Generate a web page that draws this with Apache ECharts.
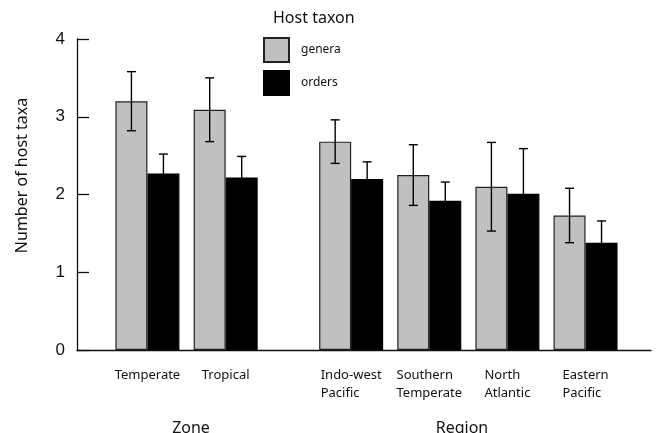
<!DOCTYPE html>
<html lang="en">
<head>
  <meta charset="UTF-8">
  <title>Number of host taxa</title>
  <style>
    html, body { margin: 0; padding: 0; background: #fff; }
    #main { width: 657px; height: 433px; }
  </style>
</head>
<body>
<div id="main"></div>
<script src="https://cdn.jsdelivr.net/npm/echarts@6/dist/echarts.min.js"></script>
<script>
  // categories
  var zoneCats = ['Temperate', 'Tropical'];
  var regionCats = ['Indo-west\nPacific', 'Southern\nTemperate', 'North\nAtlantic', 'Eastern\nPacific'];
  var seriesNames = ['genera', 'orders'];

  // means and error (half-length of bar)
  var zoneGenera = [3.20, 3.09];
  var zoneGeneraErr = [0.38, 0.41];
  var zoneOrders = [2.27, 2.22];
  var zoneOrdersErr = [0.25, 0.27];

  var regionGenera = [2.68, 2.25, 2.10, 1.73];
  var regionGeneraErr = [0.28, 0.39, 0.57, 0.35];
  var regionOrders = [2.20, 1.92, 2.01, 1.38];
  var regionOrdersErr = [0.22, 0.24, 0.58, 0.28];

  var yMin = 0, yMax = 4, yStep = 1;

  var chart = echarts.init(document.getElementById('main'));

  var BAR_W = 32;
  var GRAY = '#c0c0c0';
  var SANS = '"Noto Sans", sans-serif';

  function errData(vals, errs) {
    return vals.map(function (v, i) { return [i, v - errs[i], v + errs[i]]; });
  }

  function errSeries(gridIdx, vals, errs, side) {
    return {
      type: 'custom',
      xAxisIndex: gridIdx,
      yAxisIndex: gridIdx,
      z: 5,
      silent: true,
      encode: { x: 0, y: [1, 2] },
      data: errData(vals, errs),
      renderItem: function (params, api) {
        var lo = api.coord([api.value(0), api.value(1)]);
        var hi = api.coord([api.value(0), api.value(2)]);
        var x = lo[0] + side * BAR_W / 2;
        var cap = 4.5;
        var st = { stroke: '#000', lineWidth: 1.4 };
        return {
          type: 'group',
          children: [
            { type: 'line', shape: { x1: x, y1: lo[1], x2: x, y2: hi[1] }, style: st },
            { type: 'line', shape: { x1: x - cap, y1: hi[1], x2: x + cap, y2: hi[1] }, style: st },
            { type: 'line', shape: { x1: x - cap, y1: lo[1], x2: x + cap, y2: lo[1] }, style: st }
          ]
        };
      }
    };
  }

  function barSeries(gridIdx, name, vals) {
    var gen = name === 'genera';
    return {
      name: name,
      type: 'bar',
      xAxisIndex: gridIdx,
      yAxisIndex: gridIdx,
      barWidth: BAR_W,
      barGap: '0%',
      data: vals,
      itemStyle: {
        color: gen ? GRAY : '#000',
        borderColor: gen ? '#222' : '#000',
        borderWidth: 1.2
      }
    };
  }

  var catLabel = {
    interval: 0,
    margin: 16,
    color: '#111',
    formatter: function (v) {
      return v.split('\n').map(function (s) { return '{a|' + s + '}'; }).join('\n');
    },
    rich: {
      a: { fontFamily: SANS, fontSize: 13, color: '#111', align: 'left', lineHeight: 18 }
    }
  };

  var hiddenY = { type: 'value', min: yMin, max: yMax, interval: yStep, show: false };

  var option = {
    backgroundColor: '#fff',
    animation: false,
    title: [
      { text: 'Host taxon', left: 273, top: 10, padding: 0,
        textStyle: { fontFamily: SANS, fontSize: 16, fontWeight: 'normal', color: '#111' } },
      { text: 'Zone', left: 191, top: 420, padding: 0, textAlign: 'center',
        textStyle: { fontFamily: SANS, fontSize: 16, fontWeight: 'normal', color: '#111' } },
      { text: 'Region', left: 462, top: 420, padding: 0, textAlign: 'center',
        textStyle: { fontFamily: SANS, fontSize: 16, fontWeight: 'normal', color: '#111' } }
    ],
    legend: {
      data: seriesNames,
      orient: 'vertical',
      left: 263,
      top: 37,
      padding: 0,
      itemWidth: 25,
      itemHeight: 24,
      itemGap: 7,
      icon: 'rect',
      selectedMode: false,
      textStyle: { fontFamily: SANS, fontSize: 12, color: '#111', padding: [0, 0, 0, 7] }
    },
    grid: [
      { left: 77, right: 6, top: 39, bottom: 83 },
      { left: 108.3, width: 156.5, top: 39, bottom: 83 },
      { left: 312.1, width: 312.5, top: 39, bottom: 83 }
    ],
    xAxis: [
      { gridIndex: 0, type: 'category', data: [''],
        axisLine: { lineStyle: { color: '#111', width: 1.3 } },
        axisTick: { show: false }, axisLabel: { show: false } },
      { gridIndex: 1, type: 'category', data: zoneCats,
        axisLine: { show: false }, axisTick: { show: false }, axisLabel: catLabel },
      { gridIndex: 2, type: 'category', data: regionCats,
        axisLine: { show: false }, axisTick: { show: false }, axisLabel: catLabel }
    ],
    yAxis: [
      {
        gridIndex: 0, type: 'value', min: yMin, max: yMax, interval: yStep,
        name: 'Number of host taxa',
        nameLocation: 'middle',
        nameGap: 47,
        nameTextStyle: { fontFamily: SANS, fontSize: 16, color: '#111', padding: [0, 0, 0, 38] },
        axisLine: { show: true, lineStyle: { color: '#111', width: 1.3 } },
        axisTick: { show: true, inside: true, length: 12, lineStyle: { color: '#111', width: 1.3 } },
        axisLabel: { fontFamily: '"Liberation Sans", Arial, sans-serif', fontSize: 17, color: '#111', margin: 12 },
        splitLine: { show: false }
      },
      Object.assign({ gridIndex: 1 }, hiddenY),
      Object.assign({ gridIndex: 2 }, hiddenY)
    ],
    series: [
      barSeries(1, 'genera', zoneGenera),
      barSeries(1, 'orders', zoneOrders),
      barSeries(2, 'genera', regionGenera),
      barSeries(2, 'orders', regionOrders),
      errSeries(1, zoneGenera, zoneGeneraErr, -1),
      errSeries(1, zoneOrders, zoneOrdersErr, 1),
      errSeries(2, regionGenera, regionGeneraErr, -1),
      errSeries(2, regionOrders, regionOrdersErr, 1)
    ]
  };

  chart.setOption(option);
</script>
</body>
</html>
